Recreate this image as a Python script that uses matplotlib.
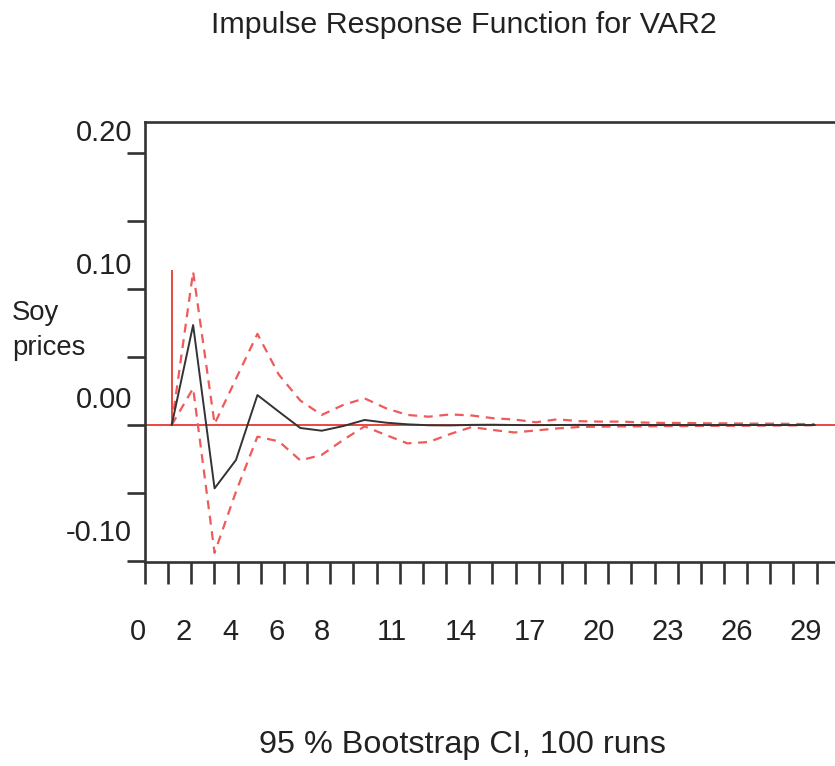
import numpy as np
import matplotlib
matplotlib.use("Agg")
import matplotlib.pyplot as plt

plt.rcParams['font.family'] = ['Liberation Sans', 'DejaVu Sans']
plt.rcParams['axes.unicode_minus'] = False

# ---- data ----
steps = np.arange(31)
response = [0.0, 0.0735, -0.0466, -0.0257, 0.0220, 0.0098, -0.0022, -0.0042, -0.0008,
            0.0037, 0.0017, 0.0005, -0.0002, -0.0003, 0.0001, 0.0002, 0.0000, -0.0001,
            0.0000, 0.0001, 0.0, 0.0, 0.0, 0.0, 0.0, 0.0, 0.0, 0.0, 0.0, 0.0, 0.0]
upper = [0.0, 0.1127, 0.0008, 0.0340, 0.0670, 0.0370, 0.0180, 0.0074, 0.0147, 0.0196,
         0.0123, 0.0074, 0.0061, 0.0078, 0.0070, 0.0050, 0.0040, 0.0020, 0.0042, 0.0028,
         0.0025, 0.0025, 0.0018, 0.0015, 0.0015, 0.0012, 0.0012, 0.0010, 0.0010, 0.0008, 0.0006]
lower = [0.0, 0.0270, -0.0940, -0.0490, -0.0086, -0.0120, -0.0260, -0.0220, -0.0110, -0.0010,
         -0.0074, -0.0135, -0.0125, -0.0066, -0.0015, -0.0037, -0.0055, -0.0040, -0.0025, -0.0015,
         -0.0012, -0.0010, -0.0010, -0.0008, -0.0008, -0.0006, -0.0006, -0.0005, -0.0004, -0.0003, -0.0002]
impulse_top = 0.114

x_tick_count = 31
x_tick_labels = ['0', '2', '4', '6', '8', '11', '14', '17', '20', '23', '26', '29']
y_tick_marks = [-0.10, -0.05, 0.0, 0.05, 0.10, 0.15, 0.20]
y_tick_labels = ['-0.10', '0.00', '0.10', '0.20']

title = "Impulse Response Function for VAR2"
ylabel = "Soy\nprices"
footer = "95 % Bootstrap CI, 100 runs"

# ---- layout (pixels) ----
W, H = 835, 766
fig = plt.figure(figsize=(W / 100, H / 100), dpi=100)
left_px, right_px, top_px, bot_px = 145, 860, 121.5, 562
ax = fig.add_axes([left_px / W, (H - bot_px) / H, (right_px - left_px) / W, (bot_px - top_px) / H])

# data scale: step i at pixel 171.7 + 21.43 i ; value v at pixel 425 - 1360 v
x0_px, dx_px = 171.7, 21.43

frame = '#333333'
red = '#e53935'
dash_red = '#ef5a5a'

ax.axhline(0, color=red, lw=1.3, zorder=2)
ax.vlines(steps[0], 0, impulse_top, color=red, lw=1.3, zorder=2)
ax.plot(steps, upper, color=dash_red, lw=1.6, ls=(0, (4, 3)), zorder=3)
ax.plot(steps, lower, color=dash_red, lw=1.6, ls=(0, (4, 3)), zorder=3)
ax.plot(steps, response, color='#333333', lw=1.4, zorder=4)

for s in ['left', 'top', 'bottom']:
    ax.spines[s].set_color(frame)
    ax.spines[s].set_linewidth(1.9)
ax.spines['right'].set_visible(False)
ax.set_xticks([])
ax.set_yticks(y_tick_marks)
ax.set_yticklabels([])
ax.tick_params(axis='y', length=13, width=1.9, color=frame, direction='out')
ax.set_xlim((left_px - x0_px) / dx_px, (right_px - x0_px) / dx_px)
ax.set_ylim(-(bot_px - 425) / 1360, (425 - top_px) / 1360)

# x tick marks on a twin axis (tick units: 23.16 px)
tick_px = 23.16
axx = ax.twiny()
axx.xaxis.set_ticks_position('bottom')
for s in axx.spines.values():
    s.set_visible(False)
axx.set_xticks(np.arange(x_tick_count))
axx.set_xticklabels([])
axx.tick_params(axis='x', length=16, width=1.9, color=frame, direction='out')
axx.set_xlim(0, (right_px - left_px) / tick_px)

# x tick labels on a wider, invisible axes (label units: 23.03 px, 0 at pixel 138)
lab_left = 100
axl = fig.add_axes([lab_left / W, (H - bot_px) / H, (right_px - lab_left) / W, (bot_px - top_px) / H])
axl.patch.set_visible(False)
for s in axl.spines.values():
    s.set_visible(False)
axl.set_yticks([])
axl.set_xticks([int(t) for t in x_tick_labels])
axl.set_xticklabels(x_tick_labels)
axl.tick_params(axis='x', length=0, pad=40, labelsize=21, labelcolor='#222222')
axl.set_xlim((lab_left - 138) / 23.03, (right_px - 138) / 23.03)

# y labels on a twin axis (label spacing 133.3 px per 0.10)
axy = ax.twinx()
axy.yaxis.tick_left()
for s in axy.spines.values():
    s.set_visible(False)
axy.set_yticks([float(t) for t in y_tick_labels])
axy.set_yticklabels(y_tick_labels)
axy.tick_params(axis='y', length=0, pad=9.4, labelsize=21, labelcolor='#222222')
axy.set_ylim(0.20 - (bot_px - 130) / 1333, 0.20 + (130 - top_px) / 1333)

fig.text(464 / W, 1 - 25 / H, title, ha='center', va='center', fontsize=21.9, color='#222222')
fig.text(12 / W, 1 - 330 / H, ylabel, ha='left', va='center', fontsize=19.8, color='#222222', linespacing=1.45)
fig.text(462 / W, 1 - 745 / H, footer, ha='center', va='center', fontsize=23.3, color='#222222')

fig.savefig('out.png', dpi=100)
